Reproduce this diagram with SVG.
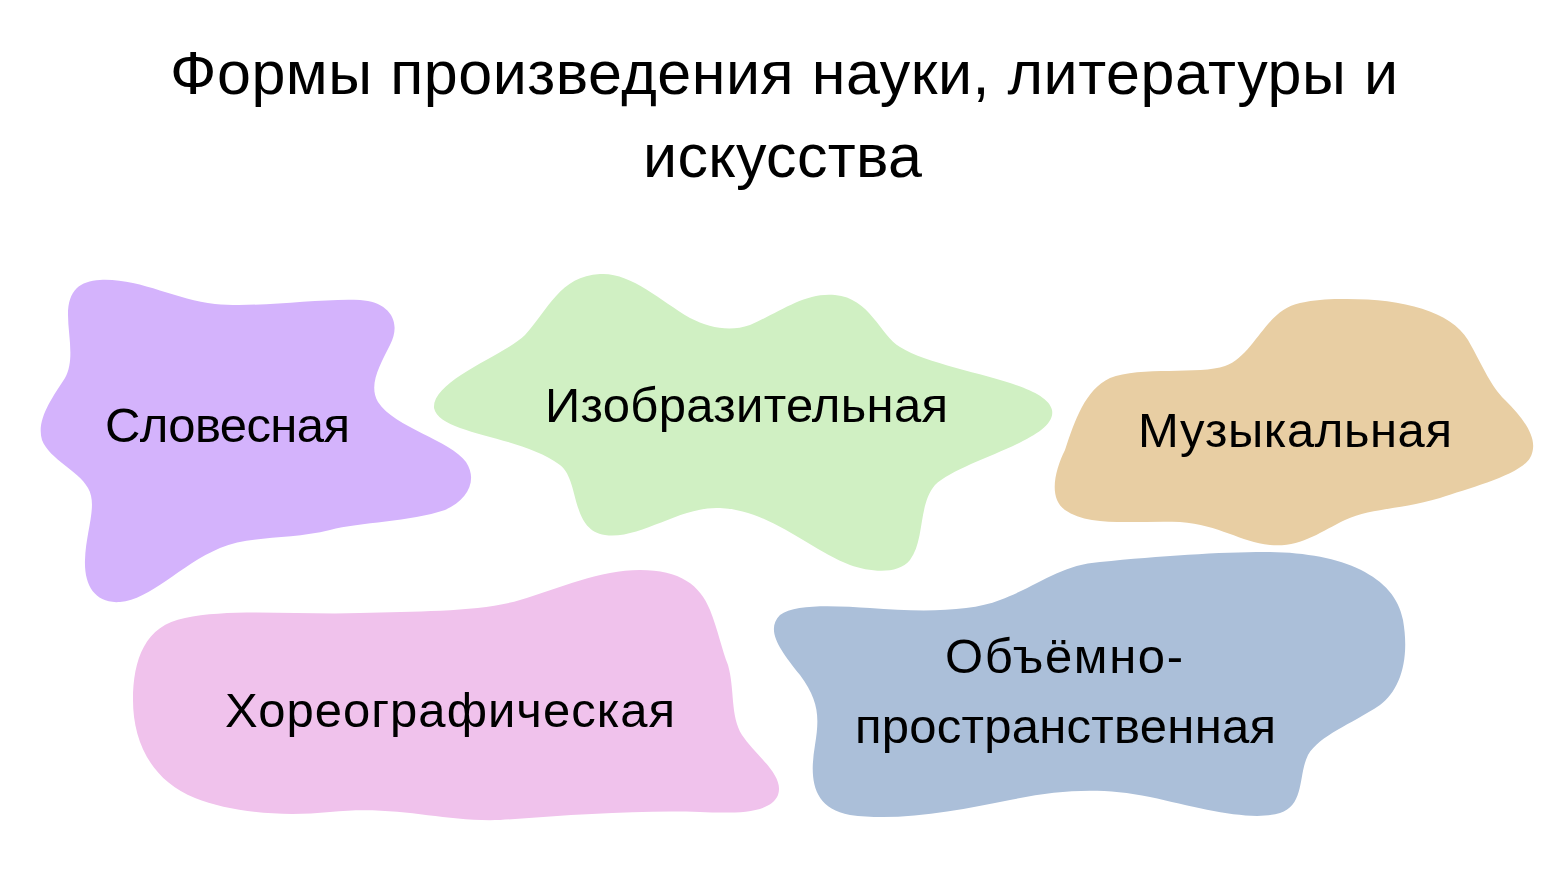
<svg xmlns="http://www.w3.org/2000/svg" width="1566" height="880" viewBox="0 0 1566 880">
<style>
.t{font-family:"Liberation Sans","Noto Sans",Arial,sans-serif;fill:#000;}
.title{font-size:61px;}
.lbl{font-size:49px;}
</style>
<rect width="1566" height="880" fill="#ffffff"/>
<g id="title">
<text class="t title" x="170" y="94" textLength="1228">Формы произведения науки, литературы и</text>
<text class="t title" x="643" y="177" textLength="279">искусства</text>
</g>
<g id="node-slovesnaya">
<path fill="#D4B3FC" d="M 100,280 C 140,278 175,300 215,304 C 260,308 320,298 360,300 C 390,302 402,322 390,345 C 380,365 368,385 378,402 C 395,428 450,440 466,462 C 478,480 468,500 445,510 C 410,522 360,522 330,530 C 290,540 250,535 220,548 C 180,565 150,600 120,602 C 95,604 84,585 85,560 C 86,530 98,505 88,488 C 78,470 50,460 42,440 C 36,420 52,398 65,378 C 75,360 68,335 68,315 C 68,290 80,281 100,280 Z"/>
<text class="t lbl" x="105" y="442" textLength="245">Словесная</text>
</g>
<g id="node-izobrazitelnaya">
<path fill="#D0F0C3" d="M 600,274 C 630,272 660,300 690,318 C 710,328 730,332 750,325 C 780,312 805,292 835,295 C 870,298 880,335 900,347 C 940,372 1045,380 1052,410 C 1058,440 960,460 935,485 C 918,505 925,540 910,560 C 898,575 870,572 850,565 C 810,550 770,510 720,508 C 680,506 640,540 605,535 C 570,530 580,480 560,465 C 520,435 440,435 434,408 C 432,380 505,355 525,335 C 548,310 560,276 600,274 Z"/>
<text class="t lbl" x="545" y="422" textLength="403">Изобразительная</text>
</g>
<g id="node-muzykalnaya">
<path fill="#E8CEA3" d="M 1340,299 C 1400,298 1450,310 1468,340 C 1485,370 1490,385 1505,400 C 1525,420 1540,440 1530,458 C 1520,475 1470,488 1440,498 C 1400,510 1370,508 1345,520 C 1320,532 1300,548 1270,545 C 1240,542 1220,525 1180,522 C 1140,520 1090,528 1065,510 C 1048,498 1055,470 1065,450 C 1075,420 1085,390 1110,378 C 1140,366 1200,375 1225,366 C 1255,355 1265,310 1300,303 C 1315,300 1325,299 1340,299 Z"/>
<text class="t lbl" x="1138" y="447" textLength="314">Музыкальная</text>
</g>
<g id="node-horeograficheskaya">
<path fill="#F0C2EC" d="M 640,570 C 680,570 700,585 710,610 C 718,630 722,650 728,665 C 735,690 730,715 742,735 C 755,755 785,775 778,795 C 770,815 730,813 700,812 C 640,810 570,815 500,820 C 440,822 400,805 330,812 C 280,817 230,812 195,798 C 150,780 133,740 133,700 C 133,660 145,625 185,618 C 230,608 300,615 360,613 C 420,611 480,612 520,600 C 560,588 600,570 640,570 Z"/>
<text class="t lbl" x="225" y="727" textLength="450">Хореографическая</text>
</g>
<g id="node-obemno">
<path fill="#ABBFD9" d="M 1265,552 C 1340,552 1395,575 1403,620 C 1410,660 1400,690 1380,705 C 1350,725 1320,735 1308,755 C 1298,775 1305,805 1280,813 C 1250,822 1200,808 1150,797 C 1100,787 1060,790 1010,800 C 960,810 900,822 850,815 C 810,808 810,775 815,745 C 820,715 818,700 800,675 C 780,650 765,630 780,615 C 795,603 840,606 870,608 C 920,612 970,612 1000,600 C 1040,585 1060,565 1100,562 C 1160,556 1220,552 1265,552 Z"/>
<text class="t lbl" x="945" y="673" textLength="238">Объёмно-</text>
<text class="t lbl" x="855" y="743" textLength="421">пространственная</text>
</g>
<g id="connectors"/>
</svg>
